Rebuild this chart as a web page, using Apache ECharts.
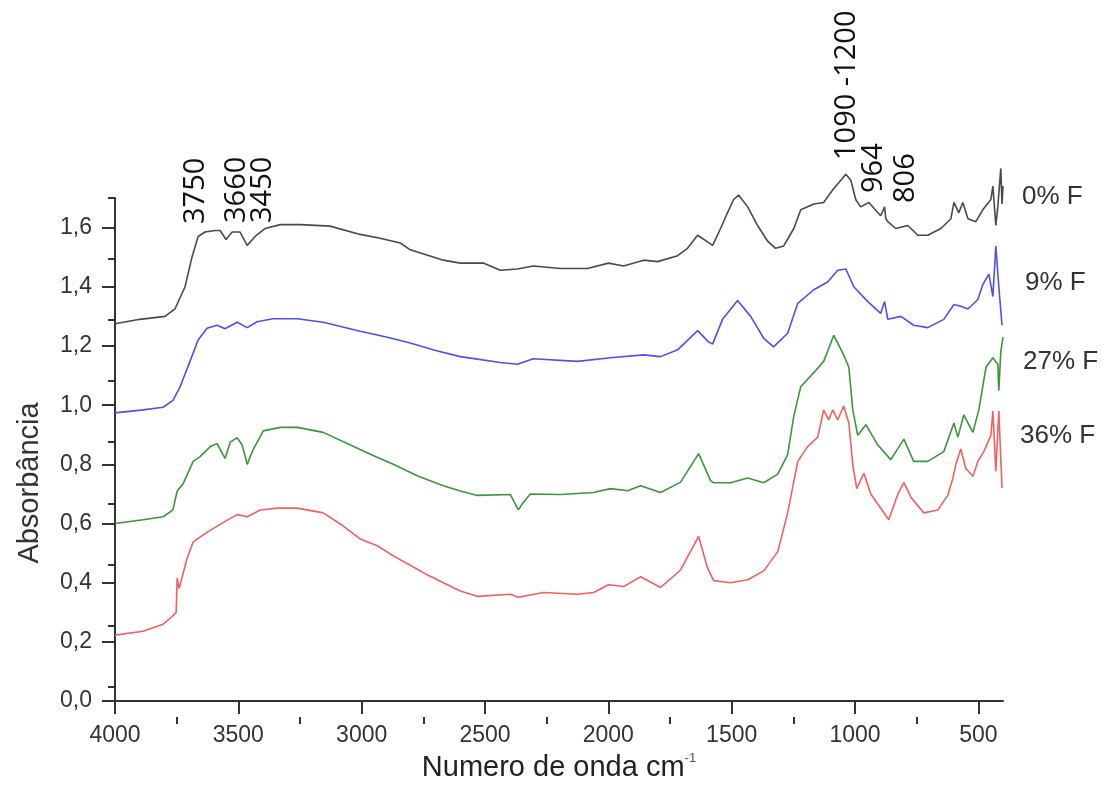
<!DOCTYPE html>
<html>
<head>
<meta charset="utf-8">
<script src="https://cdn.jsdelivr.net/npm/echarts/dist/echarts.min.js"></script>
<style>
html,body{margin:0;padding:0;background:#fff;}
#chart{width:1112px;height:787px;}
</style>
</head>
<body>
<div id="chart"></div>
<script>
// ---- data (wavenumber cm-1, absorbance) ----
const seriesNames = ['0% F', '9% F', '27% F', '36% F'];

const spectrum0 = [[4000,1.275],[3899,1.29],[3797,1.30],[3757,1.325],[3716,1.40],[3688,1.50],[3663,1.57],[3635,1.585],[3594,1.59],[3574,1.59],[3550,1.56],[3525,1.585],[3493,1.585],[3464,1.54],[3432,1.57],[3391,1.597],[3330,1.61],[3249,1.61],[3128,1.605],[3006,1.577],[2930,1.565],[2843,1.548],[2803,1.525],[2669,1.49],[2600,1.48],[2507,1.48],[2438,1.456],[2369,1.46],[2304,1.47],[2194,1.462],[2085,1.462],[1999,1.48],[1938,1.47],[1857,1.49],[1800,1.485],[1719,1.505],[1679,1.53],[1638,1.574],[1577,1.54],[1545,1.597],[1517,1.65],[1492,1.695],[1472,1.71],[1435,1.67],[1395,1.607],[1354,1.554],[1322,1.53],[1289,1.538],[1248,1.597],[1220,1.66],[1167,1.68],[1127,1.685],[1090,1.728],[1037,1.78],[1017,1.76],[997,1.695],[977,1.67],[944,1.685],[896,1.64],[880,1.67],[875,1.63],[867,1.62],[835,1.597],[786,1.607],[745,1.574],[705,1.574],[652,1.597],[611,1.63],[599,1.685],[579,1.65],[563,1.685],[542,1.63],[510,1.62],[482,1.66],[449,1.695],[441,1.74],[429,1.607],[421,1.67],[409,1.80],[404,1.68],[400,1.74]];

const spectrum9 = [[4000,0.974],[3886,0.984],[3805,0.993],[3765,1.016],[3736,1.062],[3696,1.148],[3663,1.22],[3627,1.26],[3586,1.27],[3554,1.258],[3505,1.28],[3464,1.262],[3424,1.282],[3359,1.292],[3261,1.292],[3156,1.28],[3006,1.25],[2900,1.23],[2803,1.21],[2700,1.185],[2600,1.164],[2438,1.144],[2369,1.138],[2304,1.157],[2125,1.148],[1991,1.16],[1857,1.17],[1788,1.164],[1719,1.187],[1638,1.252],[1593,1.213],[1577,1.207],[1537,1.29],[1476,1.354],[1423,1.30],[1370,1.226],[1330,1.197],[1273,1.243],[1232,1.344],[1167,1.39],[1111,1.416],[1070,1.456],[1037,1.46],[1005,1.40],[948,1.35],[896,1.31],[880,1.35],[867,1.29],[814,1.30],[762,1.27],[705,1.262],[640,1.29],[599,1.34],[571,1.334],[542,1.325],[502,1.357],[482,1.407],[457,1.443],[441,1.367],[429,1.538],[417,1.40],[404,1.27]];

const spectrum27 = [[4000,0.60],[3886,0.613],[3805,0.623],[3765,0.646],[3748,0.71],[3724,0.734],[3683,0.81],[3655,0.826],[3614,0.86],[3586,0.87],[3554,0.82],[3533,0.875],[3505,0.89],[3485,0.866],[3464,0.80],[3440,0.85],[3399,0.913],[3330,0.925],[3261,0.925],[3156,0.908],[3006,0.85],[2940,0.825],[2872,0.80],[2770,0.76],[2669,0.728],[2600,0.71],[2531,0.695],[2397,0.698],[2365,0.646],[2344,0.672],[2316,0.70],[2194,0.698],[2060,0.705],[1991,0.718],[1922,0.711],[1869,0.728],[1788,0.705],[1707,0.74],[1634,0.836],[1585,0.744],[1573,0.738],[1504,0.738],[1435,0.754],[1370,0.738],[1313,0.767],[1273,0.833],[1248,0.964],[1220,1.062],[1167,1.11],[1127,1.148],[1086,1.236],[1046,1.17],[1025,1.128],[1009,0.984],[989,0.898],[956,0.934],[908,0.866],[855,0.816],[802,0.885],[762,0.81],[705,0.81],[640,0.843],[599,0.94],[583,0.892],[559,0.967],[522,0.908],[498,0.984],[469,1.128],[441,1.16],[421,1.138],[417,1.05],[409,1.18],[400,1.23]];

const spectrum36 = [[4000,0.223],[3886,0.236],[3805,0.26],[3769,0.285],[3752,0.30],[3748,0.416],[3740,0.38],[3736,0.384],[3708,0.482],[3683,0.538],[3627,0.57],[3562,0.603],[3505,0.63],[3464,0.623],[3411,0.646],[3343,0.652],[3261,0.652],[3156,0.636],[3080,0.595],[3006,0.548],[2937,0.525],[2870,0.49],[2803,0.459],[2730,0.425],[2669,0.40],[2600,0.372],[2531,0.354],[2397,0.361],[2365,0.351],[2263,0.367],[2125,0.361],[2060,0.367],[1999,0.393],[1938,0.387],[1869,0.42],[1788,0.384],[1707,0.443],[1634,0.557],[1598,0.45],[1573,0.407],[1504,0.40],[1435,0.41],[1370,0.44],[1313,0.505],[1273,0.636],[1232,0.81],[1192,0.86],[1151,0.892],[1127,0.984],[1107,0.95],[1090,0.984],[1070,0.95],[1046,0.997],[1025,0.94],[1009,0.80],[993,0.718],[964,0.77],[936,0.70],[863,0.613],[826,0.70],[802,0.738],[774,0.69],[721,0.636],[664,0.646],[624,0.695],[603,0.754],[591,0.80],[571,0.852],[551,0.787],[522,0.76],[502,0.81],[478,0.843],[449,0.898],[441,0.98],[429,0.777],[417,0.98],[404,0.72]];

const xMajorTicks = [500,1000,1500,2000,2500,3000,3500,4000];
const xMinorTicks = [750,1250,1750,2250,2750,3250,3750];
const yMajorTicks = [0,0.2,0.4,0.6,0.8,1.0,1.2,1.4,1.6];
const yMinorTicks = [0.1,0.3,0.5,0.7,0.9,1.1,1.3,1.5,1.7];
const peakLabels = ['3750','3660','3450','1090 -1200','964','806'];

// ---- chart ----
const chart = echarts.init(document.getElementById('chart'), null, {renderer: 'canvas'});
const grid = {left: 115, right: 109, top: 198, bottom: 70};
const axisColor = '#333';
const colors = ['#4a4a4a', '#4f4ff2', '#3d963d', '#f26060'];
const spectra = [spectrum0, spectrum9, spectrum27, spectrum36];

const peakPos = [[196,224],[237,223],[263,223],[847,160],[874,193],[906,203]];
const namePos = [[1022,197],[1025,283],[1023,362],[1020,436]];

const graphics = [];
peakLabels.forEach((t, i) => {
  graphics.push({
    type: 'text', x: peakPos[i][0], y: peakPos[i][1], rotation: Math.PI / 2,
    style: {text: t, font: '29px "Open Sans"', fill: '#111', textAlign: 'left', textVerticalAlign: 'middle'},
    z: 10
  });
});
seriesNames.forEach((t, i) => {
  graphics.push({
    type: 'text', x: namePos[i][0], y: namePos[i][1],
    style: {text: t, font: '26px "Liberation Sans", Arial', fill: '#333', textAlign: 'left', textVerticalAlign: 'middle'},
    z: 10
  });
});
graphics.push({
  type: 'text', x: 30, y: 483, rotation: Math.PI / 2,
  style: {text: 'Absorbância', font: '29px "Liberation Sans", Arial', fill: '#333', textAlign: 'center', textVerticalAlign: 'middle'}
});

const option = {
  animation: false,
  backgroundColor: '#fff',
  grid: [Object.assign({}, grid), Object.assign({}, grid)],
  xAxis: [{
    type: 'value', gridIndex: 0, min: 400, max: 4000, inverse: true,
    axisLine: {show: true, lineStyle: {color: axisColor, width: 2}},
    axisTick: {show: true, inside: false, length: 13, customValues: xMajorTicks, lineStyle: {color: axisColor, width: 2}},
    axisLabel: {show: true, customValues: xMajorTicks, margin: 23, color: '#333', fontSize: 23, fontFamily: '"Liberation Sans", Arial',
      formatter: v => String(v)},
    splitLine: {show: false},
    name: 'Numero de onda cm{sup|-1}',
    nameLocation: 'middle', nameGap: 40,
    nameTextStyle: {color: '#222', fontSize: 29, fontFamily: '"Liberation Sans", Arial',
      rich: {sup: {fontSize: 13, color: '#555', verticalAlign: 'top', padding: [0,0,18,0]}}}
  }, {
    type: 'value', gridIndex: 1, min: 400, max: 4000, inverse: true,
    axisLine: {show: false},
    axisTick: {show: true, inside: false, length: 7, customValues: xMinorTicks, lineStyle: {color: axisColor, width: 2}},
    axisLabel: {show: false},
    splitLine: {show: false}
  }],
  yAxis: [{
    type: 'value', gridIndex: 0, min: 0, max: 1.7,
    axisLine: {show: true, lineStyle: {color: axisColor, width: 2}},
    axisTick: {show: true, inside: false, length: 13, customValues: yMajorTicks, lineStyle: {color: axisColor, width: 2}},
    axisLabel: {show: true, customValues: yMajorTicks, margin: 23, color: '#333', fontSize: 23, fontFamily: '"Liberation Sans", Arial',
      formatter: v => v.toFixed(1).replace('.', ',')},
    splitLine: {show: false}
  }, {
    type: 'value', gridIndex: 1, min: 0, max: 1.7,
    axisLine: {show: false},
    axisTick: {show: true, inside: false, length: 7, customValues: yMinorTicks, lineStyle: {color: axisColor, width: 2}},
    axisLabel: {show: false},
    splitLine: {show: false}
  }],
  series: spectra.map((d, i) => ({
    name: seriesNames[i], type: 'line', xAxisIndex: 0, yAxisIndex: 0,
    data: d, showSymbol: false, symbol: 'none', clip: false,
    lineStyle: {color: colors[i], width: 1.6}, z: 3
  })),
  graphic: graphics
};
chart.setOption(option);
</script>
</body>
</html>
